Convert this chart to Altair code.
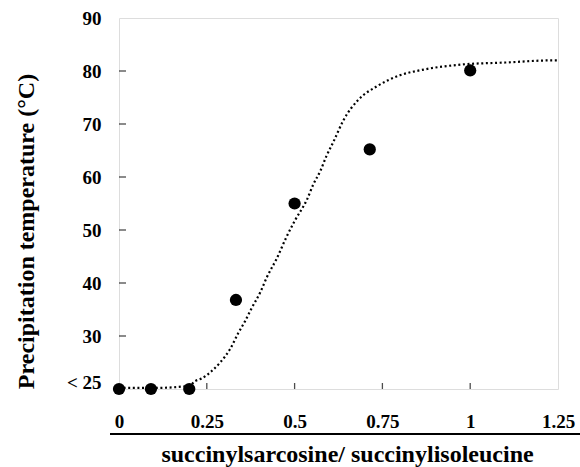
import altair as alt
import pandas as pd

# measured points
ratio = [0.0, 0.091, 0.2, 0.333, 0.5, 0.714, 1.0]
temp = [20.0, 20.0, 20.0, 36.8, 55.0, 65.2, 80.1]

# dotted fitted curve
curve_x = [0.0, 0.1, 0.2, 0.217, 0.236, 0.264, 0.288, 0.316, 0.34, 0.359, 0.378,
           0.402, 0.421, 0.449, 0.477, 0.501, 0.535, 0.554, 0.573, 0.591, 0.611,
           0.639, 0.682, 0.734, 0.796, 0.87, 0.972, 1.1, 1.233, 1.25]
curve_y = [20.2, 20.2, 20.6, 21.5, 22.0, 23.4, 25.0, 27.5, 30.6, 32.8, 35.3,
           38.2, 41.1, 44.6, 48.7, 51.8, 55.7, 58.7, 61.1, 64.0, 66.7,
           70.7, 74.6, 77.1, 79.1, 80.3, 81.2, 81.6, 82.0, 82.0]

x_label_values = [0, 0.25, 0.5, 0.75, 1.0, 1.25]
x_tick_marks = [0.25, 0.5, 0.75, 1.0]
y_label_values = [21.2, 30, 40, 50, 60, 70, 80, 90]
y_tick_marks = [30, 40, 50, 60, 70, 80]

W, H = 439, 371
FONT = "Liberation Serif"
XTITLE = "succinylsarcosine/ succinylisoleucine"
YTITLE = "Precipitation temperature (°C)"

pts = pd.DataFrame({"x": ratio, "y": temp})
cur = pd.DataFrame({"x": curve_x, "y": curve_y})
xt = pd.DataFrame({"x": x_tick_marks})
yt = pd.DataFrame({"y": y_tick_marks})

xscale = alt.Scale(domain=[0, 1.25], nice=False, zero=False)
yscale = alt.Scale(domain=[20, 90], nice=False, zero=False)

xaxis = alt.Axis(
    values=x_label_values, domain=False, ticks=False, grid=False,
    labelPadding=23, labelFontSize=19, labelFont=FONT, labelFontWeight="bold",
    labelColor="black", labelExpr="format(datum.value, '.2~f')",
    title=XTITLE, titleFont=FONT,
    titleFontSize=24, titleFontWeight="bold", titleColor="black",
    titleX=228, titleY=72, titleBaseline="alphabetic", titleAlign="center",
    labelFlush=False,
)
yaxis = alt.Axis(
    values=y_label_values, domain=False, ticks=False, grid=False,
    labelPadding=18, labelFontSize=19, labelFont=FONT, labelFontWeight="bold",
    labelColor="black", labelExpr="datum.value < 25 ? '< 25' : datum.label",
    title=YTITLE, titleFont=FONT, titleFontSize=24,
    titleFontWeight="bold", titleColor="black", titleX=-93, titleY=213,
    titleAngle=-90, titleAlign="center", titleBaseline="middle",
    labelFlush=False,
)

X = lambda: alt.X("x:Q", scale=xscale, axis=xaxis, title=XTITLE)
Y = lambda: alt.Y("y:Q", scale=yscale, axis=yaxis, title=YTITLE)

curve = alt.Chart(cur).mark_line(
    color="black", strokeWidth=2.2, strokeDash=[2, 2.6], interpolate="monotone"
).encode(x=X(), y=Y())

points = alt.Chart(pts).mark_point(
    filled=True, color="black", size=150, opacity=1, shape="circle"
).encode(x=X(), y=Y())

xticks = alt.Chart(xt).mark_tick(
    color="black", orient="vertical", size=6, thickness=1.3
).encode(x=X(), y=alt.value(H - 3))

yticks = alt.Chart(yt).mark_tick(
    color="black", orient="horizontal", size=7, thickness=1.3
).encode(y=Y(), x=alt.value(3.5))

baseline = alt.Chart(pts).mark_rule(color="black", strokeWidth=1.5).encode(
    x=alt.value(-9), x2=alt.value(470), y=alt.value(416)
)

chart = alt.layer(curve, points, xticks, yticks, baseline).properties(
    width=W, height=H,
    autosize=alt.AutoSizeParams(type="none"),
    padding={"left": 119, "top": 18, "right": 22, "bottom": 78},
).configure_view(stroke="black", strokeWidth=1.5).configure(background="white")

chart.save("out.html", embed_options={"renderer": "svg", "actions": False})
